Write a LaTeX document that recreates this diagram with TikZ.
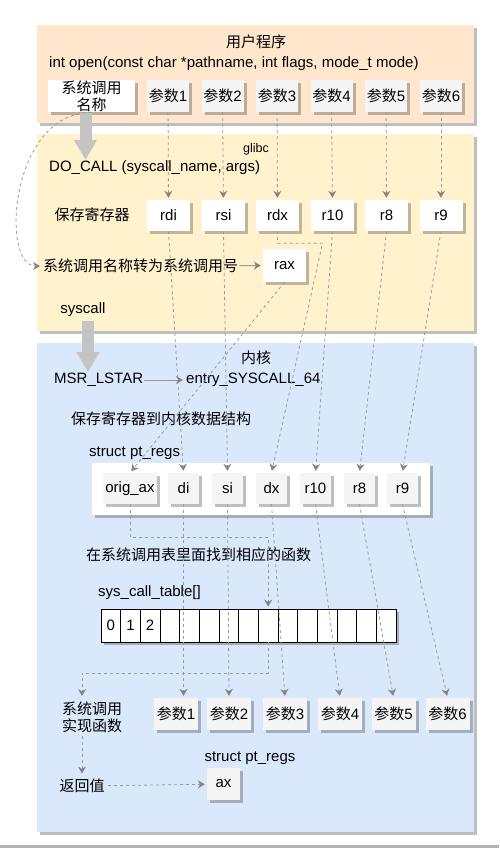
\documentclass[tikz,border=0pt]{standalone}
\usepackage{fontspec}
\setmainfont{Liberation Sans}
\newfontfamily\zhfont{Noto Sans CJK SC}
\usepackage{tikz}
\usetikzlibrary{positioning, arrows.meta, shadows}
\definecolor{userbg}{HTML}{FFE6CC}
\definecolor{glibcbg}{HTML}{FFF2CC}
\definecolor{kernelbg}{HTML}{DAE8FC}
\definecolor{argbg}{HTML}{F5F5F5}
\definecolor{linegray}{HTML}{9A9A9A}
\definecolor{tipgray}{HTML}{858585}
\definecolor{arrowgray}{HTML}{C4C4C4}
\newcommand{\zh}[1]{{\zhfont #1}}
\tikzset{
  boxshadow/.style={
    drop shadow={shadow xshift=3pt, shadow yshift=-3pt, fill=black, opacity=0.25}
  },
  panel/.style={fill=#1, boxshadow},
  box/.style={
    boxshadow,
    inner sep=1pt,
    align=center
  },
  regbox/.style={box, fill=white},
  argbox/.style={box, fill=argbg},
  cell/.style={
    draw=black, fill=white, line width=0.8pt,
    minimum width=19.67pt, minimum height=33pt,
    inner sep=0pt
  },
  lbl/.style={inner sep=1pt},
  dasharrow/.style={
    draw=linegray, line width=0.8pt,
    dash pattern=on 3pt off 3pt,
    shorten >=2pt,
    -{Stealth[length=7pt, width=8pt, color=tipgray]}
  },
  solidarrow/.style={
    draw=linegray, line width=0.9pt,
    shorten >=2pt,
    -{Stealth[length=7pt, width=8pt, color=tipgray]}
  },
  bigarrow/.style={
    draw=arrowgray, line width=12pt,
    -{Triangle[length=20pt, width=22pt]}
  }
}

\begin{document}
\begin{tikzpicture}[x=1pt, y=-1pt, font=\fontsize{15}{18}\selectfont]
  \useasboundingbox (0,0) rectangle (499,848);
  \fill[black!30] (0,845) rectangle (499,848);

  % User program
  \fill[panel=userbg] (37,25) rectangle (474,123);
  \node (user) at (256,42) {\zh{用户程序}};
  \node[lbl, anchor=west] (open) at (48,64) {int open(const char *pathname, int flags, mode\_t mode)};
  \node[regbox, minimum width=87, minimum height=32] (name) at (91.5,96) {\zh{系统调用}\\[-1pt]\zh{名称}};
  \foreach \i/\x in {1/168,2/222.5,3/277,4/331.5,5/386,6/441}
    \node[argbox, minimum width=42, minimum height=32] (arg\i) at (\x,96) {\zh{参数}\i};

  % glibc
  \fill[panel=glibcbg] (37,134) rectangle (474,331);
  \node[font=\fontsize{12.5}{15}\selectfont] (glibc) at (256,149) {glibc};
  \node[lbl, anchor=west] (docall) at (48,168) {DO\_CALL (syscall\_name, args)};
  \node (save) at (92,215) {\zh{保存寄存器}};
  \foreach \n/\t/\x in {rdi/rdi/168.5, rsi/rsi/223.5, rdx/rdx/277.5, rten/r10/332.5, reight/r8/386.5, rnine/r9/441}
    \node[regbox, minimum width=43, minimum height=31] (\n) at (\x,215.5) {\t};
  \node[lbl, anchor=west] (conv) at (42,266) {\zh{系统调用名称转为系统调用号}};
  \node[regbox, minimum width=43, minimum height=33] (rax) at (284.5,265.5) {rax};
  \node (syscall) at (83,310) {syscall};

  % Kernel
  \fill[panel=kernelbg] (37,343) rectangle (474,832);
  \node (kernel) at (256,358) {\zh{内核}};
  \node[lbl, anchor=west] (msr) at (53,380) {MSR\_LSTAR};
  \node[lbl, anchor=west] (entry) at (185,380) {entry\_SYSCALL\_64};
  \node[lbl, anchor=west] (savek) at (70,419) {\zh{保存寄存器到内核数据结构}};
  \node[lbl, anchor=west] (ptregs) at (88,453) {struct pt\_regs};
  \node[regbox, minimum width=338, minimum height=52] (regs) at (261,489) {};
  \node[argbox, minimum width=54, minimum height=31] (korig) at (130,488.5) {orig\_ax};
  \foreach \n/\t/\x in {kdi/di/183.5, ksi/si/227.5, kdx/dx/271.5, kten/r10/315.5, keight/r8/359.5, knine/r9/402.5}
    \node[argbox, minimum width=31, minimum height=31] (\n) at (\x,488.5) {\t};

  % Syscall table
  \node[lbl, anchor=west] (find) at (85,555) {\zh{在系统调用表里面找到相应的函数}};
  \node[lbl, anchor=west] (table) at (97,593) {sys\_call\_table[]};
  \foreach \i in {0,...,14}
    \node[cell, boxshadow] (c\i) at ({110.8+\i*19.67},625.5) {\ifnum\i<3 \i\fi};

  % Implementation
  \node[align=center] (impl) at (92,717) {\zh{系统调用}\\[-1pt]\zh{实现函数}};
  \foreach \i/\x in {1/176,2/229,3/285,4/340,5/393.5,6/447.5}
    \node[argbox, minimum width=44, minimum height=32] (fn\i) at (\x,714) {\zh{参数}\i};
  \node[lbl] (ptregs2) at (250,758) {struct pt\_regs};
  \node (ret) at (82,786) {\zh{返回值}};
  \node[argbox, minimum width=33, minimum height=32] (ax) at (223.5,784) {ax};

  % Connectors
  \draw[bigarrow] ([xshift=-6pt]name.south) -- ([xshift=-6pt]name.south |- docall.north);
  \foreach \i/\r in {1/rdi,2/rsi,3/rdx,4/rten,5/reight,6/rnine}
    \draw[dasharrow] (arg\i) -- (\r);
  \draw[dasharrow] (name.south) .. controls (10,112) and (0,266) .. (conv.west);
  \draw[solidarrow] (conv) -- (rax);
  \draw[dasharrow] (rdi.south) -- (kdi.north);
  \draw[dasharrow] (rsi.south) -- (ksi.north);
  \draw[dasharrow] (rdx.south) -- ++(0,12) -- ++(45,0) -- (kdx.north);
  \draw[dasharrow] (rten.south) -- (kten.north);
  \draw[dasharrow] (reight.south) -- (keight.north);
  \draw[dasharrow] (rnine.south) -- (knine.north);
  \draw[dasharrow] (rax.south) -- (korig.north);
  \draw[bigarrow] ([xshift=5pt]syscall.south) -- ([xshift=5pt]syscall.south |- msr.north);
  \draw[solidarrow] (msr) -- (entry);
  \draw[dasharrow] (korig.south) -- ++(0,33) -| (c8.north);
  \draw[dasharrow] (kdi.south) -- (kdi.south |- fn1.north);
  \draw[dasharrow] (ksi.south) -- (fn2.north);
  \draw[dasharrow] (kdx.south) -- (fn3.north);
  \draw[dasharrow] (kten.south) -- (fn4.north);
  \draw[dasharrow] (keight.south) -- (fn5.north);
  \draw[dasharrow] (knine.south) -- (fn6.north);
  \draw[dasharrow] (c8.south) -- ++(0,31) -| (ret.north |- impl.north);
  \draw[dasharrow] (ret.north |- impl.south) -- (ret.north);
  \draw[dasharrow] (ret) -- (ax);
\end{tikzpicture}
\end{document}
